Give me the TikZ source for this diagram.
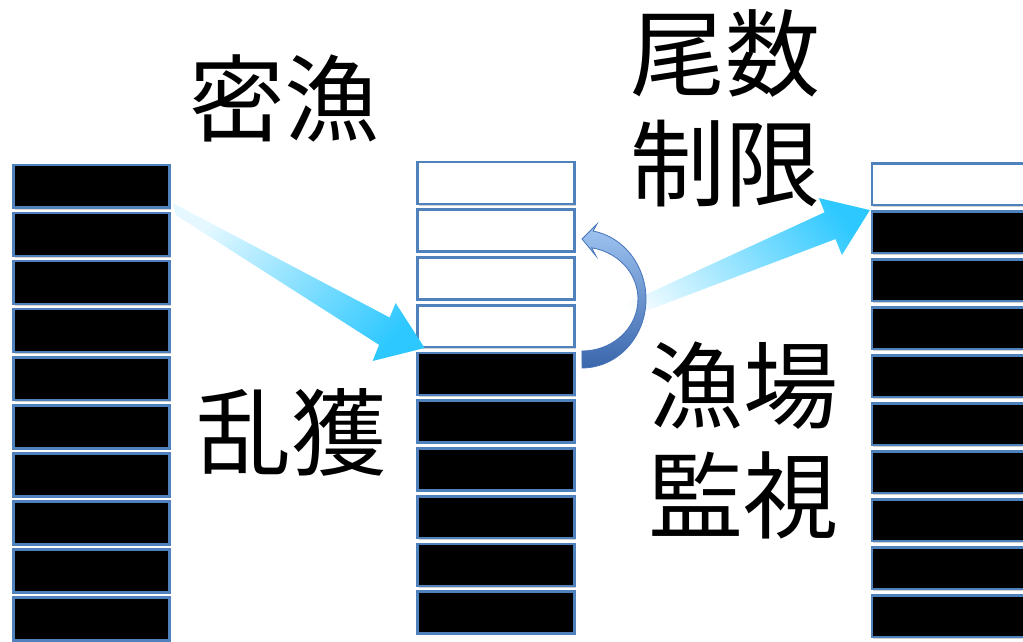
\documentclass[tikz,border=0pt]{standalone}
\usepackage{fontspec}
\newfontfamily\cjk{Noto Sans CJK JP}
\usetikzlibrary{shadows,fadings}
\definecolor{boxblue}{RGB}{79,129,189}
\definecolor{arrcyan}{RGB}{45,200,255}
\definecolor{curvelight}{RGB}{160,198,242}
\definecolor{curvedark}{RGB}{58,102,172}
\definecolor{curveline}{RGB}{70,115,185}
\tikzfading[name=arrowfade, left color=transparent!88, middle color=transparent!40, right color=transparent!0]
\tikzfading[name=arrowfadeb, left color=transparent!100, middle color=transparent!50, right color=transparent!0]
\begin{document}
\begin{tikzpicture}[x=1pt,y=-1pt,
  fullbox/.style={draw=boxblue, line width=2.6pt, fill=black, inner sep=0pt,
    anchor=north west, minimum width=156.4pt, minimum height=42.9pt,
    drop shadow={shadow xshift=1.2pt, shadow yshift=-1.8pt, opacity=0.3, fill=black!60}},
  emptybox/.style={fullbox, fill=white},
  cjklabel/.style={font=\cjk\fontsize{95}{110}\selectfont, align=center, inner sep=0pt},
  fadearrow/.style={fill=arrcyan, path fading=arrowfade},
  curvearrow/.style={draw=curveline, line width=0.8pt, top color=curvelight, bottom color=curvedark}
]
\useasboundingbox (0,0) rectangle (1023,642);
\clip (0,0) rectangle (1023,642);

% left column
\foreach \i in {0,...,9}
  \node[fullbox] (L\i) at (12,{163.5+48.1*\i}) {};

% middle column
\foreach \i in {0,...,3}
  \node[emptybox, minimum width=157.4pt, minimum height=41.9pt] (M\i) at (416,{160.7+47.75*\i}) {};
\foreach \i in {4,...,9}
  \node[fullbox, minimum width=157.4pt, minimum height=41.9pt] (M\i) at (416,{160.7+47.75*\i}) {};

% right column
\node[emptybox, minimum width=160pt, minimum height=41.4pt] (R0) at (870.5,162.3) {};
\foreach \i in {1,...,9}
  \node[fullbox, minimum width=160pt, minimum height=41.4pt] (R\i) at (870.5,{162.3+48*\i}) {};

% labels
\node[cjklabel] (t1) at (284,98) {密漁};
\node[cjklabel] (t2) at (291,432) {乱獲};
\node[cjklabel] (t3) at (725,108) {尾数\\制限};
\node[cjklabel] (t4) at (743,440) {漁場\\監視};

% gradient arrows
\coordinate (a1tip) at (425,348);
\coordinate (a2tip) at (870,210);
\fill[fadearrow, fading angle=-30]
  (173,203) -- (390,317.5) -- (396,303) -- (a1tip) -- (373,361) -- (379.4,344.8) -- (176,215) -- cycle;
\fill[fadearrow, path fading=arrowfadeb, fading angle=22]
  (599,316) -- (824.7,212.2) -- (819,198) -- (a2tip) -- (842,255) -- (835.6,239) -- (601,328) -- cycle;

% curved arrow
\coordinate (ctail) at (582,368);
\coordinate (ctip) at (582,239);
\draw[curvearrow] (ctail) arc[start angle=90, end angle=-80, x radius=64, y radius=69]
  -- (597,224) -- (ctip) -- (596,256) -- (591.7,247.8)
  arc[start angle=-80, end angle=90, x radius=56, y radius=52] -- cycle;
\end{tikzpicture}
\end{document}
